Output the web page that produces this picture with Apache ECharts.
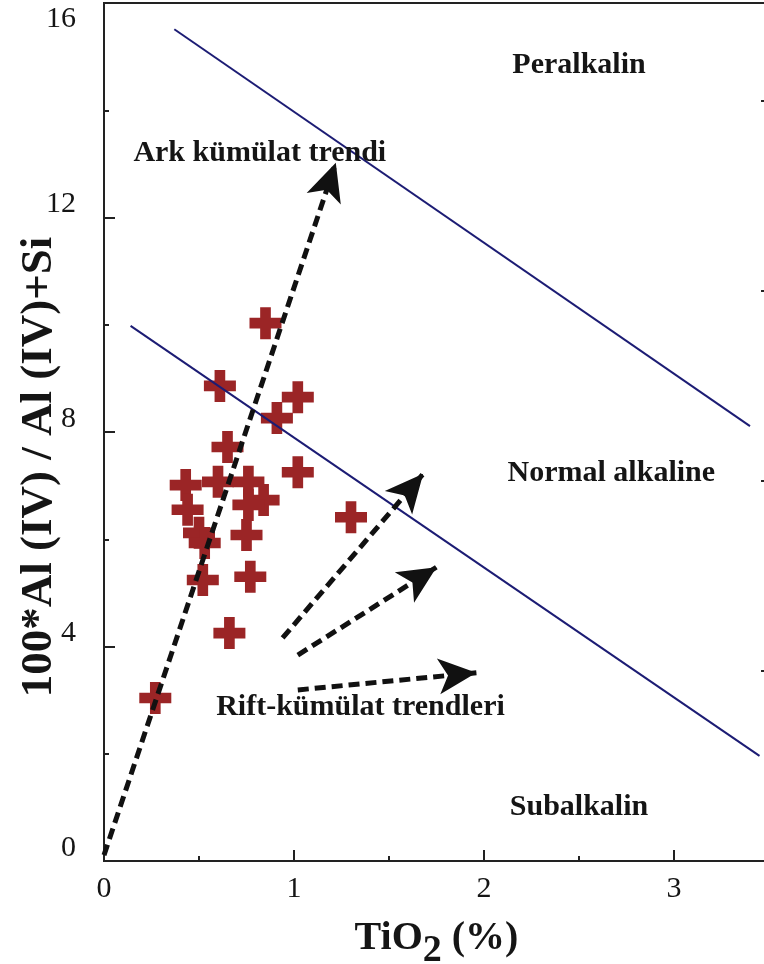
<!DOCTYPE html>
<html>
<head>
<meta charset="utf-8">
<script src="https://cdn.jsdelivr.net/npm/echarts@6/dist/echarts.min.js"></script>
<style>
  html, body { margin: 0; padding: 0; background: #fff; }
  #chart { width: 764px; height: 964px; }
</style>
</head>
<body>
<div id="chart"></div>
<script>
// samples: TiO2 (%) and 100*Al(IV)/(Al(IV)+Si)
const tio2 = [0.85, 0.61, 1.02, 0.91, 0.65, 1.02, 0.43, 0.60, 0.76, 0.84, 0.76, 0.44, 0.50, 0.53, 0.75, 0.52, 0.77, 0.66, 0.27, 1.30];
const alRatio = [10.03, 8.86, 8.65, 8.26, 7.72, 7.25, 7.01, 7.07, 7.07, 6.73, 6.64, 6.55, 6.12, 5.93, 6.08, 5.24, 5.30, 4.25, 3.04, 6.41];

// field boundaries, [start, end]
const peralkalineLine = [[0.37, 15.51], [3.40, 8.11]];
const subalkalineLine = [[0.14, 9.98], [3.45, 1.96]];

// trend arrows, [from, tip]
const arcTrend = [[0, 0.11], [1.22, 13.02]];
const riftTrends = [
  [[0.94, 4.16], [1.68, 7.22]],
  [[1.02, 3.84], [1.75, 5.48]],
  [[1.02, 3.19], [1.96, 3.51]]
];

const xTicks = [0, 1, 2, 3];
const xMinorTicks = [0.5, 1.5, 2.5];
const rightTicks = [3.54, 7.09, 10.63, 14.17];

const fieldLabels = ['Peralkalin', 'Ark kümülat trendi', 'Normal alkaline', 'Rift-kümülat trendleri', 'Subalkalin'];
const fieldLabelPos = [[2.50, 14.83], [0.82, 13.2], [2.67, 7.24], [1.35, 2.87], [2.50, 1.01]];

const serif = 'Liberation Serif';
const ink = '#151515';
const crossPath = 'path://M-1,-3H1V-1H3V1H1V3H-1V1H-3V-1H-1Z';

const chart = echarts.init(document.getElementById('chart'));

const option = {
  backgroundColor: '#fff',
  animation: false,
  grid: {
    left: 104, top: 3, right: -5, bottom: 103,
    outerBoundsMode: 'none', containLabel: false,
    show: true, borderColor: '#222', borderWidth: 2
  },
  xAxis: [
    {
      type: 'value', min: 0, max: 3.5, position: 'bottom',
      name: '{a|TiO}{b|2}{a| (%)}',
      nameLocation: 'middle', nameGap: 58, nameMoveOverlap: false,
      nameTextStyle: {
        rich: {
          a: { fontFamily: serif, fontWeight: 'bold', fontSize: 40, color: ink, lineHeight: 40, verticalAlign: 'top' },
          b: { fontFamily: serif, fontWeight: 'bold', fontSize: 38, color: ink, lineHeight: 64 }
        }
      },
      axisLine: { onZero: false, lineStyle: { color: '#222', width: 2 } },
      axisTick: { inside: true, length: 11, customValues: xTicks, lineStyle: { color: '#222', width: 2 } },
      axisLabel: { customValues: xTicks, fontFamily: serif, fontSize: 30, color: ink, margin: 13 },
      splitLine: { show: false }
    },
    {
      type: 'value', min: 0, max: 3.5, position: 'bottom',
      axisLine: { show: false, onZero: false },
      axisTick: { inside: true, length: 5, customValues: xMinorTicks, lineStyle: { color: '#222', width: 2 } },
      axisLabel: { show: false },
      splitLine: { show: false }
    }
  ],
  yAxis: [
    {
      type: 'value', min: 0, max: 16, interval: 4, position: 'left',
      name: '100*Al (IV) / Al (IV)+Si',
      nameLocation: 'middle', nameGap: 42, nameRotate: 90, nameMoveOverlap: false,
      nameTextStyle: { fontFamily: serif, fontWeight: 'bold', fontSize: 45, color: ink, padding: [0, 70, 0, 0] },
      axisLine: { onZero: false, lineStyle: { color: '#222', width: 2 } },
      axisTick: { inside: true, length: 11, lineStyle: { color: '#222', width: 2 } },
      minorTick: { show: true, splitNumber: 2, length: 5, lineStyle: { color: '#222', width: 2 } },
      axisLabel: {
        margin: 28, fontFamily: serif, fontSize: 30, color: ink,
        formatter: v => (v === 16 ? '{top|' + v + '}' : '{n|' + v + '}'),
        rich: {
          n: { fontFamily: serif, fontSize: 30, color: ink, padding: [0, 0, 26, 0] },
          top: { fontFamily: serif, fontSize: 30, color: ink, padding: [32, 0, 0, 0] }
        }
      },
      splitLine: { show: false }
    },
    {
      type: 'value', min: 0, max: 16, position: 'right',
      axisLine: { onZero: false, lineStyle: { color: '#222', width: 2 } },
      axisTick: { inside: true, length: 8, customValues: rightTicks, lineStyle: { color: '#222', width: 2 } },
      axisLabel: { show: false },
      splitLine: { show: false }
    }
  ],
  series: [
    {
      type: 'scatter',
      data: tio2.map((x, i) => [x, alRatio[i]]),
      symbol: crossPath,
      symbolSize: 32,
      itemStyle: { color: '#9b2526', opacity: 1 },
      z: 2
    },
    {
      type: 'line',
      data: peralkalineLine,
      symbol: 'none',
      lineStyle: { color: '#1c1c74', width: 2 },
      z: 3
    },
    {
      type: 'line',
      data: subalkalineLine,
      symbol: 'none',
      lineStyle: { color: '#1c1c74', width: 2 },
      z: 3
    },
    {
      type: 'lines',
      coordinateSystem: 'cartesian2d',
      data: [arcTrend].concat(riftTrends).map(c => ({ coords: c })),
      symbol: ['none', 'arrow'],
      symbolSize: [0, [27, 38]],
      lineStyle: { color: '#111', width: 5, type: [11, 6], opacity: 1 },
      z: 4
    },
    {
      type: 'scatter',
      data: fieldLabelPos.map((p, i) => ({ value: p, name: fieldLabels[i] })),
      symbolSize: 1,
      itemStyle: { color: 'rgba(0,0,0,0)', opacity: 1 },
      silent: true,
      label: {
        show: true, position: 'inside', formatter: '{b}', opacity: 1,
        fontFamily: serif, fontWeight: 'bold', fontSize: 30, color: ink,
        textBorderWidth: 0
      },
      z: 5
    }
  ]
};

chart.setOption(option);
</script>
</body>
</html>
